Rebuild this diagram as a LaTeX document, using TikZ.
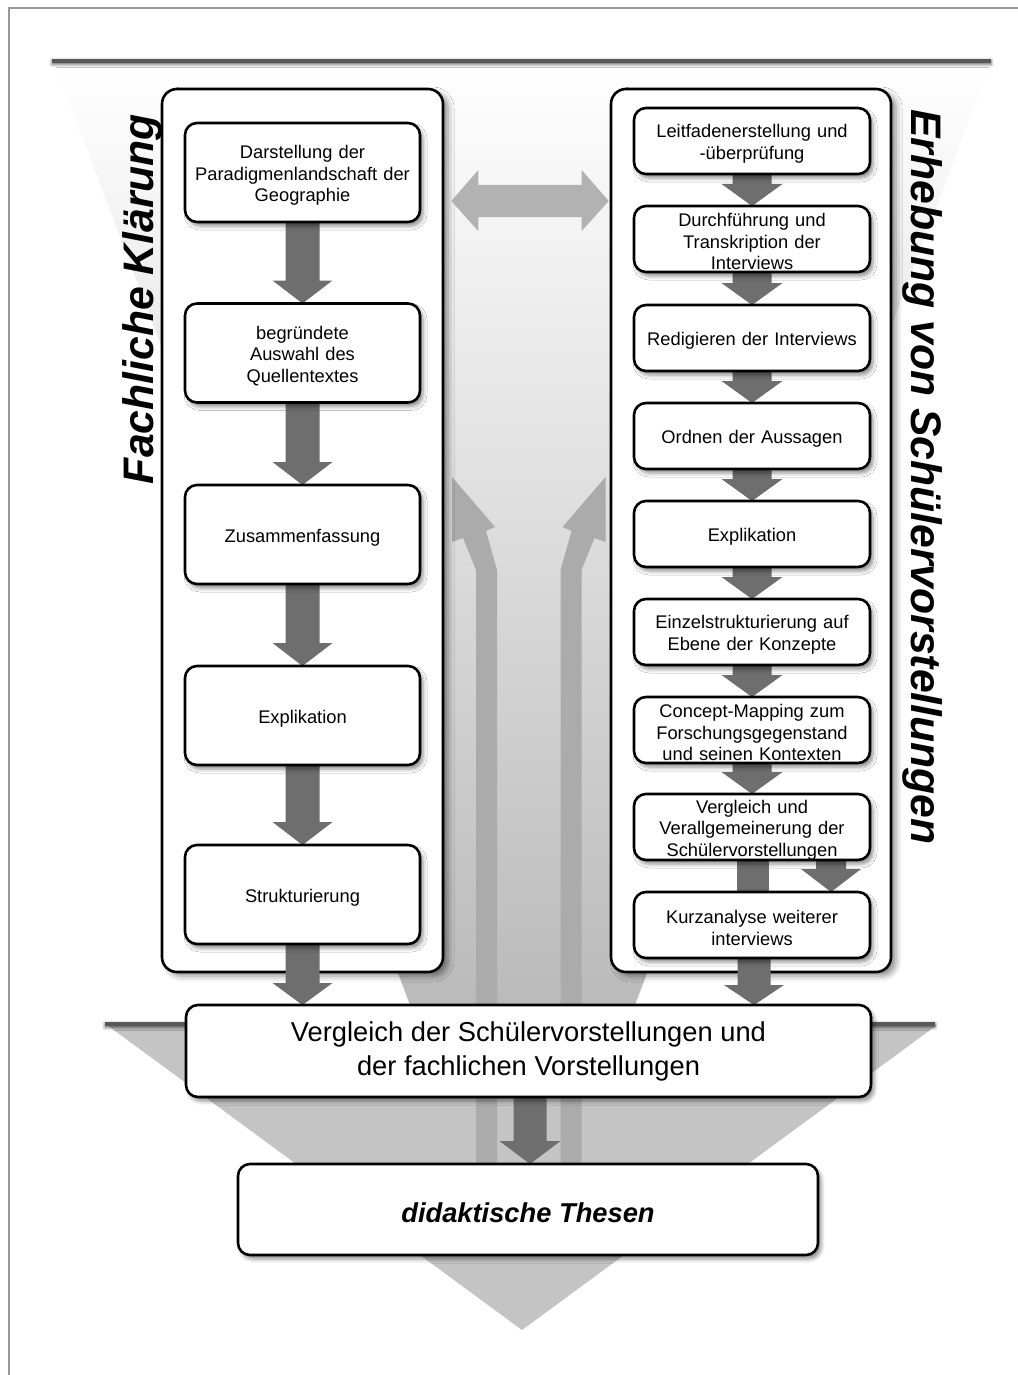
\documentclass[tikz,border=0pt]{standalone}
\usepackage{fontspec}
\setmainfont{Liberation Sans}
\usetikzlibrary{shadows.blur,calc}
\tikzset{
  softshadow/.style={blur shadow={shadow xshift=3pt, shadow yshift=-4pt, shadow blur radius=4pt, shadow opacity=45}},
  box/.style={draw=black, line width=2.6pt, rounded corners=12pt, fill=white, align=center, inner sep=0pt, softshadow,
    font=\fontsize{18.3}{21.5}\selectfont, execute at begin node={\rule{0pt}{19pt}}},
  lbox/.style={box, minimum width=235pt, minimum height=99pt, text width=225pt},
  rbox/.style={box, minimum width=236pt, minimum height=66pt, text width=226pt},
  bigbox/.style={box, font=\fontsize{27.3}{34}\selectfont, execute at begin node={\rule{0pt}{26pt}}},
  panel/.style={draw=black, line width=2.6pt, rounded corners=15pt, fill=white, inner sep=0pt,
    blur shadow={shadow xshift=5pt, shadow yshift=-4pt, shadow blur radius=6pt, shadow opacity=45}},
  title/.style={anchor=base, inner sep=0pt, font=\fontsize{42.7}{50}\selectfont\bfseries\itshape},
  darkarr/.style={fill=black!57},
  lightarr/.style={fill=black!33},
  hlightarr/.style={fill=black!30},
  edgeline/.style={fill=black!65, blur shadow={shadow xshift=0pt, shadow yshift=-1.5pt, shadow blur radius=3pt, shadow opacity=60}},
}
% #1 from, #2 to, #3 shaft half width, #4 head half width, #5 head length
\newcommand\flowarrow[5]{%
  \fill[darkarr] let \p1=(#1), \p2=(#2) in
    (\x1-#3pt,\y1) -- (\x1-#3pt,\y2+#5pt) -- (\x1-#4pt,\y2+#5pt) -- (\x1,\y2)
    -- (\x1+#4pt,\y2+#5pt) -- (\x1+#3pt,\y2+#5pt) -- (\x1+#3pt,\y1) -- cycle;}
\begin{document}
\begin{tikzpicture}[x=1pt,y=-1pt]
\useasboundingbox (0,0) rectangle (1017,1375);
% outer frame
\draw[black!40, line width=2.5pt] (9,1390) -- (9,8) -- (1030,8);
% top funnel
\shade[top color=white, bottom color=black!27] (54,62) -- (991,62) -- (635,1005) -- (410,1005) -- cycle;
\fill[edgeline] (52,59) rectangle (991,63);
% bottom funnel
\fill[black!23] (107,1025) -- (937,1025) -- (522,1330) -- cycle;
\fill[edgeline] (105,1022) rectangle (935,1026);
% light upward arrows
\fill[lightarr] (452,477) -- (495,527) -- (486,531) -- (497,570) -- (497,1163) -- (476,1163)
  -- (476,570) -- (463,538) -- (452,542) -- cycle;
\fill[lightarr] (605.5,477) -- (562.5,527) -- (571.5,531) -- (560.5,570) -- (560.5,1163) -- (581.5,1163)
  -- (581.5,570) -- (594.5,538) -- (605.5,542) -- cycle;
% panels
\node[panel, minimum width=281pt, minimum height=883pt] (lp) at (302.5,530.5) {};
\node[panel, minimum width=280pt, minimum height=883pt] (rp) at (751,530.5) {};
% horizontal double arrow between panels
\fill[hlightarr] let \p1=(lp.east), \p2=(rp.west) in
  (\x1+7pt,-201pt) -- (\x1+34pt,-170pt) -- (\x1+34pt,-185pt) -- (\x2-28pt,-185pt) -- (\x2-28pt,-170pt)
  -- (\x2-1pt,-201pt) -- (\x2-28pt,-231pt) -- (\x2-28pt,-217pt) -- (\x1+34pt,-217pt) -- (\x1+34pt,-231pt) -- cycle;
% box positions
\coordinate (cl1) at (302.5,172.5);
\coordinate (cl2) at (302.5,353);
\coordinate (cl3) at (302.5,534.5);
\coordinate (cl4) at (302.5,715.5);
\coordinate (cl5) at (302.5,894.5);
\foreach \i/\y in {1/141,2/239,3/338,4/436,5/534,6/632,7/730,8/827,9/925}
  \coordinate (cr\i) at (752,\y);
\coordinate (cvg) at (528.5,1051);
\coordinate (cth) at (528,1209.5);
% dark arrows (drawn before the boxes, so that the boxes cover their ends)
\foreach \a/\b in {1/2,2/3,3/4,4/5}
  \flowarrow{$(cl\a)+(0,49.5)$}{$(cl\b)+(0,-49.5)$}{17}{30}{23};
\flowarrow{$(cl5)+(0,49.5)$}{$(cvg)+(-226.5,-46)$}{17}{30}{22}
\foreach \a/\b in {1/2,2/3,3/4,4/5,5/6,6/7,7/8}
  \flowarrow{$(cr\a)+(0,33)$}{$(cr\b)+(0,-33)$}{19.5}{30.5}{22};
\fill[darkarr] let \p1=($(cr8)+(0,33)$), \p2=($(cr9)+(0,-33)$) in (\x1-15pt,\y1) rectangle (\x1+17pt,\y2);
\flowarrow{$(cr8)+(79,33)$}{$(cr9)+(79,-33)$}{15}{30}{23}
\flowarrow{$(cr9)+(2,33)$}{$(cvg)+(225.5,-46)$}{16.5}{30}{20}
\flowarrow{$(cvg)+(1.5,46)$}{$(cth)+(0,-45.5)$}{16.5}{30.5}{23}
% left column boxes
\node[lbox] (l1) at (cl1) {Darstellung der\\Paradigmenlandschaft der\\Geographie};
\node[lbox] (l2) at (cl2) {begründete\\Auswahl des\\Quellentextes};
\node[lbox] (l3) at (cl3) {Zusammenfassung};
\node[lbox] (l4) at (cl4) {Explikation};
\node[lbox] (l5) at (cl5) {Strukturierung};
% right column boxes
\node[rbox] (r1) at (cr1) {Leitfadenerstellung und\\-überprüfung};
\node[rbox] (r2) at (cr2) {Durchführung und\\Transkription der\\Interviews};
\node[rbox] (r3) at (cr3) {Redigieren der Interviews};
\node[rbox] (r4) at (cr4) {Ordnen der Aussagen};
\node[rbox] (r5) at (cr5) {Explikation};
\node[rbox] (r6) at (cr6) {Einzelstrukturierung auf\\Ebene der Konzepte};
\node[rbox] (r7) at (cr7) {Concept-Mapping zum\\Forschungsgegenstand\\und seinen Kontexten};
\node[rbox] (r8) at (cr8) {Vergleich und\\Verallgemeinerung der\\Schülervorstellungen};
\node[rbox] (r9) at (cr9) {Kurzanalyse weiterer\\interviews};
% big boxes
\node[bigbox, minimum width=685pt, minimum height=92pt] (vg) at (cvg) {Vergleich der Schülervorstellungen und\\der fachlichen Vorstellungen};
\node[bigbox, minimum width=580pt, minimum height=91pt, font=\fontsize{27.3}{34}\selectfont\bfseries\itshape] (th) at (cth) {didaktische Thesen};
% titles
\node[title, rotate=90] (t1) at (153,299) {Fachliche Klärung};
\node[title, rotate=-90] (t2) at (911,477) {Erhebung von Schülervorstellungen};
\end{tikzpicture}
\end{document}
